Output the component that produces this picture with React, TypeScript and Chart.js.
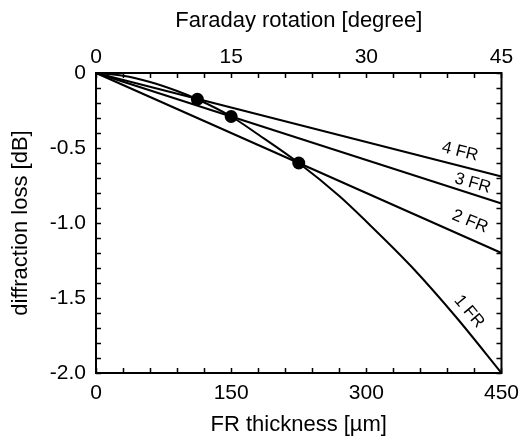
import React, { useEffect, useRef } from "react";
import { Chart, registerables } from "chart.js";

Chart.register(...registerables);

// FR thickness [µm] and diffraction loss [dB]
const oneFrX = [0, 30, 60, 90, 112.5, 150, 180, 225, 270, 300, 350, 400, 450];
const oneFrY = [0, -0.018, -0.06, -0.12, -0.175, -0.29, -0.41, -0.6, -0.82, -0.99, -1.29, -1.63, -2.0];
const lineX = [0, 450];
const twoFrY = [0, -1.2];
const threeFrY = [0, -0.87];
const fourFrY = [0, -0.69];
const dotX = [112.5, 150, 225];
const dotY = [-0.175, -0.29, -0.6];

const lineLabels = ["1 FR", "2 FR", "3 FR", "4 FR"];

const FONT = "'Liberation Sans', Arial, sans-serif";

const toPts = (xs: number[], ys: number[]) => xs.map((x, i) => ({ x, y: ys[i] }));

export default function App() {
  const ref = useRef<HTMLCanvasElement | null>(null);
  useEffect(() => {
    document.body.style.margin = "0";
    const canvas = ref.current!;
    const lineDs = (data: any, smooth = false) => ({
      data,
      showLine: true,
      borderColor: "#000",
      borderWidth: 2,
      pointRadius: 0,
      fill: false,
      cubicInterpolationMode: smooth ? ("monotone" as const) : ("default" as const),
      tension: smooth ? 0.4 : 0,
      clip: false as any,
    });

    const labelPos = [
      { x: 414, y: -1.59, a: 50 },
      { x: 415, y: -0.99, a: 22 },
      { x: 418, y: -0.735, a: 16 },
      { x: 404, y: -0.525, a: 14 },
    ];

    const framePlugin = {
      id: "frame",
      afterDraw(chart: any) {
        const { ctx, chartArea: ca, scales } = chart;
        const xs = scales.x;
        const ys = scales.y;
        ctx.save();
        ctx.strokeStyle = "#000";
        ctx.lineWidth = 1.5;
        const tl = 5;
        for (let v = 0; v <= 450; v += 30) {
          const p = Math.round(xs.getPixelForValue(v)) + 0.5;
          ctx.beginPath();
          ctx.moveTo(p, ca.bottom);
          ctx.lineTo(p, ca.bottom - tl);
          ctx.moveTo(p, ca.top);
          ctx.lineTo(p, ca.top + tl);
          ctx.stroke();
        }
        for (let i = 0; i <= 20; i++) {
          const p = Math.round(ys.getPixelForValue(-i / 10)) + 0.5;
          ctx.beginPath();
          ctx.moveTo(ca.left, p);
          ctx.lineTo(ca.left + tl, p);
          ctx.moveTo(ca.right, p);
          ctx.lineTo(ca.right - tl, p);
          ctx.stroke();
        }
        ctx.lineWidth = 2;
        ctx.strokeRect(ca.left, ca.top, ca.right - ca.left, ca.bottom - ca.top);
        // line labels
        ctx.fillStyle = "#000";
        ctx.font = `17px ${FONT}`;
        ctx.textAlign = "center";
        ctx.textBaseline = "middle";
        lineLabels.forEach((t, i) => {
          const lp = labelPos[i];
          ctx.save();
          ctx.translate(xs.getPixelForValue(lp.x), ys.getPixelForValue(lp.y));
          ctx.rotate((lp.a * Math.PI) / 180);
          ctx.fillText(t, 0, 0);
          ctx.restore();
        });
        ctx.restore();
      },
    };

    const tickFont = { family: FONT, size: 21 };
    const titleFont = { family: FONT, size: 22 };

    const chart = new Chart(canvas, {
      type: "scatter",
      data: {
        datasets: [
          lineDs(toPts(oneFrX, oneFrY), true),
          lineDs(toPts(lineX, twoFrY)),
          lineDs(toPts(lineX, threeFrY)),
          lineDs(toPts(lineX, fourFrY)),
          {
            data: toPts(dotX, dotY),
            showLine: false,
            pointRadius: 6.5,
            pointBackgroundColor: "#000",
            pointBorderColor: "#000",
            pointBorderWidth: 0,
            clip: false as any,
          },
        ],
      },
      options: {
        responsive: false,
        animation: false,
        events: [],
        layout: { padding: 0 },
        plugins: { legend: { display: false }, tooltip: { enabled: false } },
        scales: {
          x: {
            type: "linear",
            position: "bottom",
            min: 0,
            max: 450,
            grid: { display: false, drawTicks: false },
            border: { display: false },
            ticks: { stepSize: 150, color: "#000", font: tickFont, padding: 8, maxRotation: 0, autoSkip: false },
            title: { display: true, text: "FR thickness [µm]", color: "#000", font: titleFont, padding: { top: 0, bottom: 0 } },
            afterFit: (s: any) => { s.height = 65; },
          },
          x2: {
            type: "linear",
            position: "top",
            min: 0,
            max: 45,
            grid: { display: false, drawTicks: false },
            border: { display: false },
            ticks: { stepSize: 15, color: "#000", font: tickFont, padding: 3, maxRotation: 0, autoSkip: false },
            title: { display: true, text: "Faraday rotation [degree]", color: "#000", font: titleFont, padding: { top: 8, bottom: 0 } },
            afterFit: (s: any) => { s.height = 73; },
          },
          y: {
            type: "linear",
            position: "left",
            min: -2,
            max: 0,
            grid: { display: false, drawTicks: false },
            border: { display: false },
            ticks: {
              stepSize: 0.5,
              color: "#000",
              font: tickFont,
              padding: 10,
              callback: (v: any) => (v === 0 ? "0" : Number(v).toFixed(1)),
            },
            title: { display: true, text: "diffraction loss [dB]", color: "#000", font: titleFont, padding: { top: 8, bottom: 0 } },
            afterFit: (s: any) => { s.width = 96; },
          },
          y2: {
            type: "linear",
            position: "right",
            min: -2,
            max: 0,
            grid: { display: false, drawTicks: false },
            border: { display: false },
            ticks: { display: false },
            afterFit: (s: any) => { s.width = 23; },
          },
        },
      },
      plugins: [framePlugin],
    });
    return () => chart.destroy();
  }, []);
  return <canvas ref={ref} width={527} height={438} />;
}
